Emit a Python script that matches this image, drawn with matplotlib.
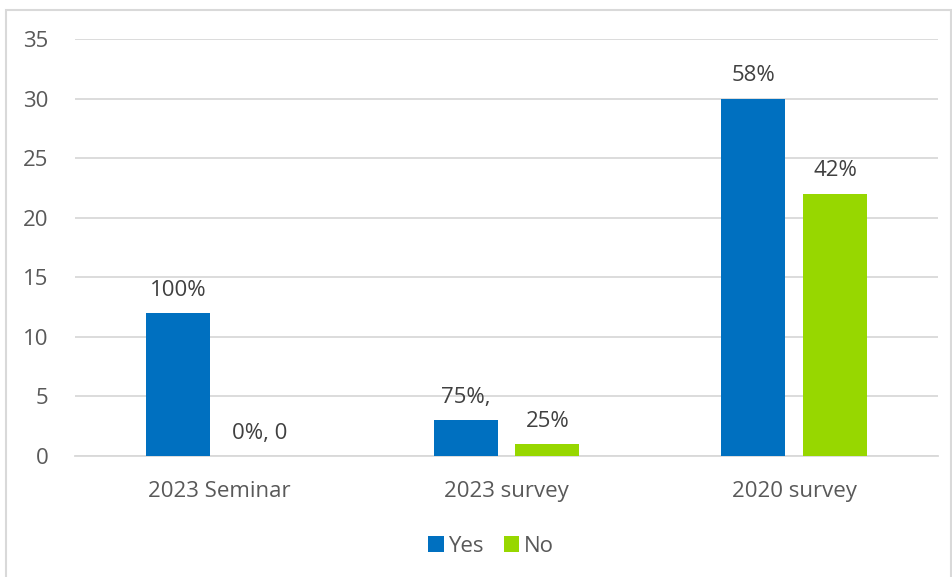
import numpy as np
import matplotlib.pyplot as plt
from matplotlib.patches import Rectangle

plt.rcParams['font.family'] = ['Open Sans', 'DejaVu Sans']

# data
categories = ["2023 Seminar", "2023 survey", "2020 survey"]
yes_vals = [12, 3, 30]
no_vals = [0, 1, 22]
yes_labels = ["100%", "75%,", "58%"]
no_labels = ["0%, 0", "25%", "42%"]
yticks = [0, 5, 10, 15, 20, 25, 30, 35]

blue = "#0070C0"
green = "#97D700"
grey_txt = "#595959"
grid_c = "#D9D9D9"
fs = 16

fig = plt.figure(figsize=(9.53, 5.77), dpi=100)
ax = fig.add_axes([75/953, 1-456/577, (938-75)/953, (456-39)/577])

# outer chart frame
fig.patches.append(Rectangle((6/953, -0.05), (951-6)/953, 1.05-10/577,
                             transform=fig.transFigure, fill=False,
                             edgecolor=grid_c, linewidth=1.5))

x = np.arange(len(categories))
w = 0.2225
off = 0.1425
b1 = ax.bar(x - off, yes_vals, w, color=blue, label="Yes", zorder=3)
b2 = ax.bar(x + off, no_vals, w, color=green, label="No", zorder=3)

for rect, lab in zip(b1, yes_labels):
    ax.annotate(lab, (rect.get_x() + rect.get_width()/2, rect.get_height()),
                xytext=(0, 9), textcoords="offset points", ha="center",
                va="bottom", fontsize=fs, color="#404040")
for rect, lab in zip(b2, no_labels):
    ax.annotate(lab, (rect.get_x() + rect.get_width()/2, rect.get_height()),
                xytext=(0, 9), textcoords="offset points", ha="center",
                va="bottom", fontsize=fs, color="#404040")

ax.set_xlim(-0.5, 2.5)
ax.set_ylim(0, 35)
ax.set_yticks(yticks)
ax.set_xticks(x)
ax.set_xticklabels(categories)
ax.tick_params(axis="both", length=0, labelsize=fs, labelcolor=grey_txt)
ax.tick_params(axis="y", pad=19)
ax.tick_params(axis="x", pad=18)
ax.yaxis.grid(True, color=grid_c, linewidth=1.3, zorder=0)
ax.set_axisbelow(True)
for s in ["top", "right", "left"]:
    ax.spines[s].set_visible(False)
ax.spines["bottom"].set_color(grid_c)
ax.spines["bottom"].set_linewidth(1.3)

fig.legend(loc="center", bbox_to_anchor=(491/953, 1-546/577), ncol=2,
           frameon=False, fontsize=fs, handlelength=0.7, handleheight=0.7,
           handletextpad=0.2, columnspacing=0.9, labelcolor=grey_txt)

fig.savefig("out.png", dpi=100)
